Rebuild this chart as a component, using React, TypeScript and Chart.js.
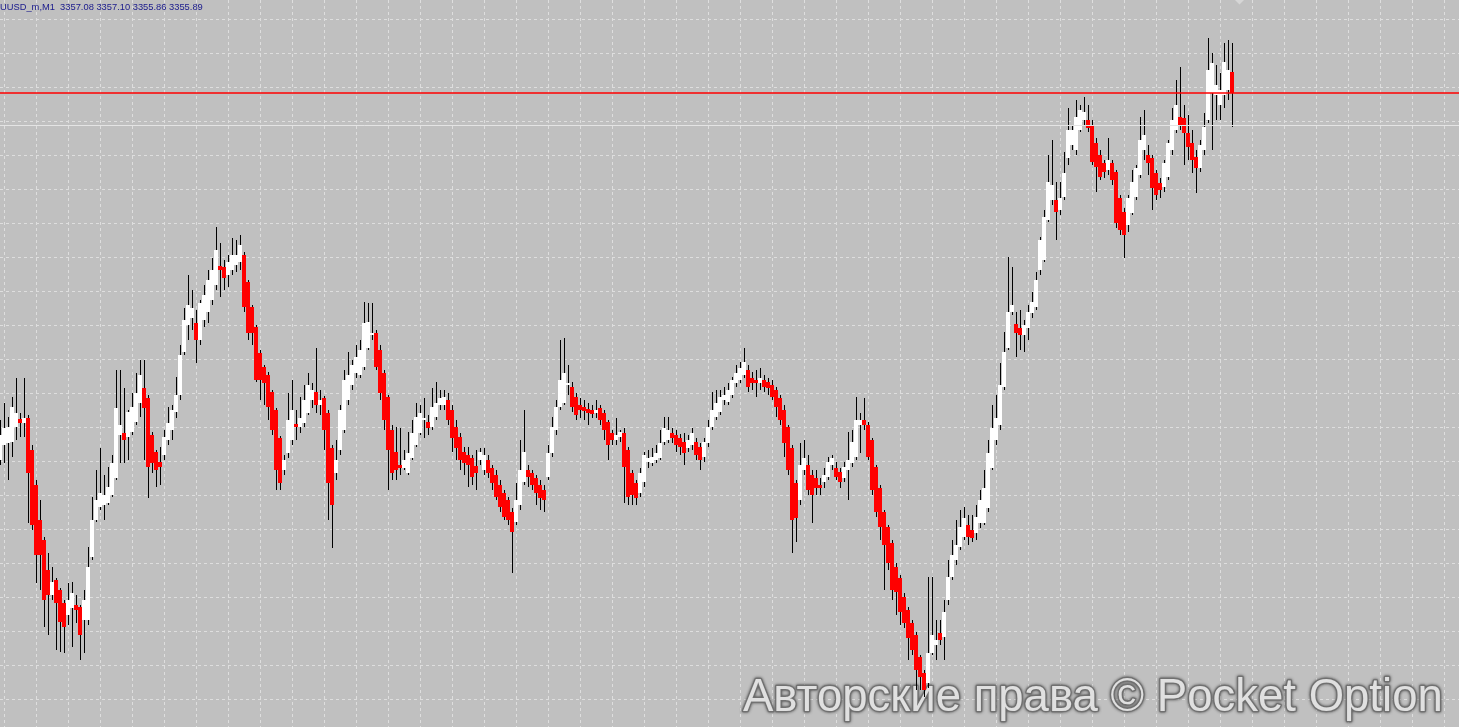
import React, { useEffect, useRef } from "react";
import { Chart, registerables } from "chart.js";

Chart.register(...registerables);

// ---- header / texts ----
const SYMBOL = "UUSD_m,M1";
const LAST_BAR_TEXT = ["3357.08", "3357.10", "3355.86", "3355.89"];
const WATERMARK = "Авторские права © Pocket Option";

// ---- OHLC series (1-minute bars, oldest first) ----
const opens = [
  3319.0, 3320.5, 3320.7, 3320.8, 3322.3, 3323.1, 3322.7, 3323.2, 3320.0, 3316.5,
  3313.0, 3311.0, 3308.0, 3305.5, 3307.0, 3306.0, 3304.7, 3303.5, 3304.2, 3304.5,
  3304.3, 3303.0, 3303.0, 3309.3, 3313.0, 3314.3, 3314.5, 3314.7, 3315.5, 3317.2,
  3321.5, 3321.7, 3321.3, 3321.8, 3322.8, 3324.7, 3326.2, 3325.2, 3321.5, 3319.8,
  3318.8, 3319.5, 3321.0, 3322.0, 3323.8, 3325.5, 3329.8, 3332.5, 3333.2, 3332.7,
  3331.0, 3333.0, 3333.8, 3335.0, 3336.5, 3338.4, 3338.3, 3337.5, 3338.0, 3338.5,
  3338.8, 3339.5, 3336.8, 3334.3, 3332.3, 3329.7, 3328.3, 3327.5, 3325.8, 3324.0,
  3321.2, 3318.0, 3319.7, 3321.0, 3322.6, 3322.3, 3322.7, 3323.7, 3325.0, 3325.8,
  3324.5, 3325.2, 3323.7, 3320.2, 3317.7, 3320.0, 3322.0, 3325.0, 3326.5, 3327.7,
  3327.5, 3328.3, 3330.2, 3331.5, 3331.7, 3330.0, 3327.7, 3325.3, 3322.0, 3319.8,
  3318.5, 3318.2, 3317.7, 3319.2, 3320.5, 3321.7, 3323.0, 3322.8, 3322.3, 3323.3,
  3324.5, 3324.5, 3325.0, 3324.0, 3322.3, 3321.3, 3319.8, 3319.5, 3319.2, 3318.4,
  3319.0, 3318.0, 3319.0, 3318.2, 3317.5, 3316.5, 3315.7, 3315.0, 3313.8, 3312.8,
  3314.5, 3316.8, 3318.0, 3317.7, 3317.2, 3316.5, 3316.0, 3317.3, 3319.7, 3322.0,
  3324.3, 3324.7, 3326.5, 3326.3, 3325.3, 3324.5, 3324.3, 3324.1, 3324.0, 3323.7,
  3324.2, 3323.7, 3322.8, 3321.7, 3321.0, 3321.3, 3321.7, 3320.0, 3317.7, 3316.7,
  3315.7, 3316.8, 3318.8, 3318.7, 3319.0, 3319.2, 3320.8, 3321.0, 3321.7, 3321.5,
  3321.2, 3320.8, 3320.2, 3320.5, 3320.8, 3320.3, 3319.3, 3320.7, 3322.3, 3323.3,
  3323.8, 3325.0, 3324.8, 3325.5, 3326.7, 3327.0, 3327.5, 3328.0, 3327.2, 3327.0,
  3326.7, 3327.0, 3326.8, 3326.5, 3326.0, 3325.2, 3324.0, 3322.3, 3320.2, 3316.7,
  3315.0, 3318.0, 3318.5, 3317.5, 3317.2, 3316.5, 3316.8, 3317.3, 3318.5, 3318.2,
  3317.8, 3317.2, 3318.0, 3318.7, 3319.3, 3322.5, 3323.0, 3322.5, 3321.0, 3318.3,
  3316.2, 3313.8, 3312.3, 3310.7, 3308.3, 3307.2, 3305.3, 3304.0, 3302.7, 3301.5,
  3299.3, 3297.7, 3296.7, 3299.7, 3300.5, 3301.7, 3301.3, 3305.0, 3307.3, 3309.0,
  3310.3, 3311.3, 3312.5, 3312.0, 3311.7, 3312.7, 3312.7, 3314.2, 3318.2, 3321.0,
  3322.5, 3326.3, 3330.2, 3333.8, 3332.6, 3332.2, 3331.5, 3332.2, 3333.7, 3334.3,
  3338.0, 3339.0, 3343.0, 3345.0, 3345.0, 3344.0, 3345.3, 3349.2, 3350.5, 3350.0,
  3352.0, 3353.0, 3353.0, 3352.5, 3350.7, 3349.5, 3348.7, 3348.0, 3348.7, 3347.8,
  3345.2, 3343.8, 3342.5, 3343.7, 3345.3, 3347.5, 3350.0, 3349.5, 3349.2, 3347.7,
  3346.7, 3346.3, 3347.3, 3350.0, 3352.0, 3353.3, 3353.2, 3351.7, 3350.7, 3349.3,
  3348.2, 3350.0, 3353.0, 3355.7, 3355.5, 3354.5, 3355.5, 3356.0, 3357.8,
];

const highs = [
  3323.0, 3324.7, 3323.3, 3325.3, 3327.2, 3323.7, 3327.2, 3323.5, 3320.5, 3317.0,
  3315.0, 3311.3, 3309.7, 3308.3, 3307.2, 3306.2, 3305.0, 3306.7, 3306.8, 3305.5,
  3304.5, 3306.0, 3310.3, 3315.3, 3318.0, 3320.2, 3317.5, 3318.3, 3319.5, 3328.0,
  3328.0, 3326.2, 3324.0, 3325.7, 3327.7, 3329.0, 3329.0, 3325.5, 3321.8, 3320.0,
  3320.3, 3322.0, 3324.3, 3324.5, 3327.3, 3330.5, 3334.2, 3337.5, 3336.0, 3334.0,
  3335.0, 3336.5, 3338.0, 3339.2, 3342.3, 3340.7, 3339.0, 3339.5, 3341.2, 3341.0,
  3341.5, 3339.8, 3337.0, 3334.5, 3332.5, 3330.0, 3328.5, 3327.8, 3326.0, 3324.2,
  3321.4, 3319.5, 3325.7, 3327.0, 3324.0, 3325.3, 3326.5, 3327.7, 3326.7, 3330.2,
  3326.0, 3325.4, 3324.0, 3320.5, 3321.0, 3324.5, 3328.0, 3329.8, 3329.0, 3330.5,
  3331.0, 3334.8, 3334.7, 3334.7, 3332.0, 3330.5, 3328.0, 3325.5, 3322.5, 3322.3,
  3322.2, 3320.0, 3321.8, 3323.0, 3324.7, 3324.5, 3325.2, 3323.5, 3326.2, 3326.8,
  3326.0, 3326.0, 3325.7, 3324.5, 3323.0, 3321.7, 3320.3, 3320.3, 3319.5, 3320.0,
  3320.2, 3320.2, 3319.5, 3318.5, 3318.0, 3317.0, 3316.0, 3315.3, 3314.2, 3316.7,
  3321.0, 3324.0, 3318.5, 3318.0, 3317.5, 3317.0, 3316.5, 3320.5, 3323.3, 3325.0,
  3331.0, 3331.2, 3328.5, 3326.8, 3325.7, 3325.2, 3325.0, 3324.7, 3324.5, 3325.0,
  3324.5, 3324.0, 3323.0, 3322.0, 3323.2, 3322.0, 3322.2, 3320.3, 3318.0, 3317.0,
  3318.2, 3319.8, 3320.0, 3320.2, 3320.5, 3322.0, 3323.3, 3323.3, 3322.2, 3322.0,
  3321.6, 3321.7, 3321.5, 3322.2, 3321.2, 3320.7, 3321.2, 3323.0, 3325.8, 3326.0,
  3326.0, 3326.3, 3326.7, 3327.3, 3328.5, 3328.8, 3330.2, 3328.5, 3327.8, 3328.0,
  3328.2, 3327.5, 3327.2, 3327.0, 3326.3, 3325.5, 3324.5, 3322.5, 3320.5, 3317.0,
  3320.7, 3321.0, 3319.5, 3318.0, 3318.0, 3317.2, 3318.2, 3319.3, 3319.5, 3318.8,
  3318.2, 3318.8, 3321.8, 3322.0, 3325.3, 3323.7, 3325.2, 3322.8, 3321.2, 3318.5,
  3316.5, 3314.0, 3312.5, 3311.0, 3308.7, 3307.5, 3305.7, 3304.3, 3303.0, 3301.8,
  3299.5, 3298.0, 3307.3, 3307.3, 3303.0, 3303.0, 3305.0, 3309.0, 3311.0, 3313.0,
  3314.0, 3314.3, 3313.5, 3313.5, 3314.5, 3316.0, 3318.0, 3321.0, 3324.5, 3325.5,
  3328.7, 3331.8, 3339.3, 3338.3, 3333.8, 3334.0, 3333.0, 3334.5, 3335.8, 3337.8,
  3341.3, 3344.0, 3349.5, 3351.0, 3346.8, 3346.8, 3349.8, 3354.2, 3352.5, 3355.0,
  3354.5, 3355.3, 3354.5, 3353.0, 3351.2, 3350.0, 3349.0, 3351.2, 3349.0, 3348.0,
  3345.5, 3344.2, 3345.5, 3348.0, 3348.5, 3353.3, 3354.0, 3350.5, 3349.5, 3348.0,
  3347.2, 3349.0, 3351.0, 3354.2, 3357.0, 3358.3, 3354.5, 3353.5, 3352.0, 3350.0,
  3351.0, 3353.7, 3361.2, 3359.7, 3358.5, 3357.7, 3360.7, 3361.0, 3360.7,
];

const lows = [
  3318.5, 3318.7, 3317.0, 3319.3, 3321.0, 3321.3, 3321.3, 3312.7, 3312.0, 3306.7,
  3306.0, 3302.3, 3301.5, 3305.0, 3300.0, 3299.8, 3299.7, 3302.5, 3300.3, 3302.7,
  3299.0, 3299.7, 3302.5, 3309.0, 3312.8, 3314.0, 3313.0, 3314.5, 3315.3, 3317.0,
  3318.7, 3318.7, 3319.0, 3321.5, 3322.5, 3323.3, 3319.0, 3315.2, 3317.7, 3316.3,
  3316.5, 3319.0, 3320.5, 3321.0, 3323.2, 3325.0, 3329.5, 3331.0, 3332.0, 3328.7,
  3330.5, 3332.3, 3332.7, 3334.5, 3336.0, 3335.3, 3336.0, 3336.3, 3337.5, 3337.8,
  3338.0, 3333.8, 3331.0, 3330.5, 3326.8, 3325.0, 3324.5, 3323.0, 3321.5, 3316.0,
  3316.0, 3317.5, 3319.2, 3320.5, 3321.0, 3321.7, 3322.3, 3323.5, 3324.2, 3323.7,
  3323.5, 3320.0, 3313.0, 3310.2, 3317.0, 3319.5, 3321.7, 3324.5, 3326.0, 3327.2,
  3327.2, 3328.0, 3330.0, 3331.0, 3328.0, 3325.0, 3322.0, 3316.0, 3317.0, 3317.0,
  3317.5, 3318.0, 3317.5, 3319.0, 3320.3, 3321.5, 3321.2, 3321.5, 3322.0, 3323.0,
  3324.0, 3324.0, 3322.5, 3319.8, 3319.0, 3318.0, 3317.5, 3316.3, 3316.5, 3316.0,
  3318.5, 3317.5, 3317.2, 3316.0, 3315.0, 3313.8, 3313.0, 3312.5, 3307.7, 3312.5,
  3314.0, 3316.5, 3316.3, 3316.0, 3314.5, 3314.0, 3313.8, 3317.0, 3319.3, 3321.5,
  3324.0, 3324.5, 3325.5, 3323.8, 3323.0, 3323.2, 3323.0, 3322.5, 3323.2, 3323.2,
  3322.5, 3321.0, 3319.0, 3320.5, 3320.5, 3320.8, 3314.7, 3314.5, 3314.5, 3314.5,
  3315.3, 3316.3, 3318.2, 3318.4, 3318.7, 3319.0, 3320.5, 3320.7, 3320.7, 3319.8,
  3319.5, 3318.5, 3319.8, 3320.0, 3319.0, 3318.0, 3318.8, 3320.3, 3322.0, 3323.0,
  3323.5, 3324.5, 3324.5, 3325.2, 3326.3, 3326.7, 3327.2, 3325.8, 3326.0, 3325.3,
  3326.0, 3325.8, 3325.5, 3325.0, 3323.3, 3322.5, 3319.3, 3317.5, 3309.7, 3310.8,
  3314.5, 3317.5, 3315.5, 3312.7, 3315.5, 3315.5, 3316.2, 3317.0, 3318.0, 3317.0,
  3316.2, 3316.8, 3315.0, 3318.3, 3319.0, 3319.7, 3322.0, 3319.0, 3315.5, 3313.3,
  3311.0, 3306.0, 3308.0, 3305.0, 3303.5, 3302.5, 3302.2, 3299.0, 3299.5, 3296.0,
  3296.0, 3295.3, 3296.2, 3299.5, 3299.0, 3300.5, 3299.0, 3304.5, 3307.0, 3308.5,
  3310.0, 3311.0, 3310.5, 3310.8, 3311.0, 3312.2, 3312.5, 3313.8, 3318.0, 3320.5,
  3322.0, 3326.0, 3330.0, 3333.5, 3329.3, 3330.0, 3329.8, 3331.0, 3333.2, 3334.0,
  3337.5, 3338.8, 3342.8, 3344.5, 3341.0, 3343.5, 3345.0, 3348.5, 3350.0, 3349.5,
  3351.8, 3352.5, 3351.8, 3348.5, 3345.8, 3347.0, 3347.2, 3347.5, 3346.5, 3342.2,
  3341.5, 3339.2, 3341.8, 3343.5, 3345.0, 3347.2, 3349.0, 3347.5, 3344.0, 3345.0,
  3345.2, 3345.8, 3347.0, 3349.5, 3351.7, 3352.0, 3348.5, 3349.0, 3347.7, 3345.7,
  3347.8, 3349.5, 3352.7, 3350.0, 3353.0, 3353.0, 3354.2, 3355.0, 3352.3,
];

const closes = [
  3321.5, 3322.2, 3322.3, 3324.3, 3323.7, 3322.7, 3323.2, 3317.7, 3312.5, 3309.5,
  3309.5, 3305.0, 3305.5, 3306.8, 3304.7, 3302.8, 3302.3, 3305.0, 3305.7, 3304.0,
  3301.5, 3305.0, 3308.3, 3313.0, 3315.0, 3315.7, 3315.5, 3316.3, 3318.7, 3324.2,
  3322.5, 3321.0, 3323.8, 3324.3, 3325.7, 3327.5, 3324.2, 3318.3, 3318.7, 3318.0,
  3318.3, 3321.3, 3322.7, 3324.0, 3325.5, 3329.5, 3333.0, 3334.5, 3334.2, 3331.0,
  3334.7, 3335.5, 3337.0, 3338.0, 3340.0, 3338.0, 3337.2, 3338.8, 3339.5, 3339.5,
  3340.5, 3334.3, 3331.7, 3331.7, 3327.0, 3327.0, 3326.7, 3324.3, 3322.0, 3318.0,
  3316.7, 3319.0, 3323.0, 3324.0, 3322.3, 3323.2, 3325.0, 3326.5, 3326.0, 3324.5,
  3325.0, 3322.0, 3316.7, 3314.5, 3319.0, 3324.0, 3327.0, 3327.5, 3328.5, 3329.3,
  3330.0, 3332.7, 3332.8, 3331.7, 3328.3, 3325.7, 3323.0, 3320.0, 3317.7, 3318.0,
  3318.2, 3319.0, 3319.7, 3321.7, 3323.3, 3323.7, 3323.2, 3322.2, 3324.3, 3324.7,
  3325.2, 3325.3, 3323.0, 3321.2, 3320.2, 3319.0, 3318.7, 3318.5, 3317.3, 3317.7,
  3319.8, 3319.5, 3317.7, 3316.7, 3315.3, 3314.3, 3313.3, 3313.0, 3311.8, 3315.0,
  3318.0, 3319.8, 3317.3, 3316.5, 3315.7, 3315.2, 3315.0, 3319.7, 3322.3, 3324.3,
  3327.0, 3327.7, 3326.7, 3324.3, 3323.5, 3324.0, 3323.9, 3323.7, 3323.6, 3324.0,
  3323.0, 3322.0, 3320.5, 3321.0, 3321.5, 3321.8, 3318.3, 3315.3, 3315.5, 3315.2,
  3317.7, 3319.5, 3319.2, 3319.3, 3319.7, 3320.7, 3322.2, 3322.0, 3321.2, 3320.5,
  3320.3, 3319.7, 3321.0, 3321.7, 3319.5, 3319.0, 3320.8, 3322.3, 3324.0, 3324.7,
  3325.3, 3325.5, 3326.0, 3327.0, 3327.7, 3328.2, 3328.8, 3326.3, 3326.7, 3326.7,
  3327.2, 3326.3, 3326.2, 3325.3, 3324.3, 3323.0, 3320.7, 3318.0, 3313.0, 3313.2,
  3318.5, 3319.2, 3316.0, 3315.5, 3316.2, 3316.2, 3317.5, 3318.8, 3319.2, 3317.3,
  3316.8, 3318.3, 3319.0, 3320.8, 3323.0, 3323.0, 3322.5, 3319.3, 3316.0, 3313.8,
  3312.3, 3310.5, 3308.7, 3306.0, 3305.8, 3303.8, 3302.7, 3301.2, 3300.0, 3298.0,
  3297.3, 3296.0, 3299.7, 3301.5, 3301.0, 3301.0, 3303.8, 3307.3, 3309.5, 3310.5,
  3312.3, 3313.2, 3311.3, 3311.2, 3313.3, 3315.0, 3316.2, 3319.7, 3322.2, 3323.2,
  3326.5, 3329.8, 3333.8, 3334.5, 3331.7, 3331.5, 3332.5, 3333.8, 3334.8, 3337.0,
  3341.0, 3343.3, 3346.8, 3346.5, 3343.8, 3345.2, 3347.7, 3352.0, 3352.0, 3353.3,
  3354.0, 3353.8, 3352.2, 3348.8, 3348.3, 3347.3, 3347.8, 3349.0, 3347.0, 3342.7,
  3342.0, 3341.5, 3345.2, 3346.8, 3348.2, 3351.0, 3351.5, 3348.7, 3346.2, 3345.5,
  3346.0, 3348.7, 3350.7, 3353.0, 3354.5, 3352.5, 3351.7, 3350.3, 3349.0, 3348.2,
  3350.5, 3352.3, 3358.0, 3358.7, 3356.5, 3356.0, 3358.8, 3358.0, 3355.7,
];

// horizontal price lines
const BID_LINE = 3355.7;
const LIGHT_LINE = 3352.45;

// visible window
const PRICE_MAX = 3365.0;
const PRICE_MIN = 3292.3;
const BAR_MIN = -0.125;
const BAR_MAX = 364.625;
const SHIFT_MARK = 309.75;

// grid positions (MT4 style fixed grid)
const GRID_BAR_START = 1;
const GRID_BAR_STEP = 8;
const GRID_BAR_COUNT = 46;
const GRID_PRICE_START = 3363.05;
const GRID_PRICE_STEP = 3.4;
const GRID_PRICE_COUNT = 21;

const W = 1459;
const H = 727;

const BG = "#c0c0c0";
const GRID_COLOR = "#dedede";
const UP_COLOR = "#ffffff";
const DOWN_COLOR = "#ff0000";
const WICK_COLOR = "#000000";

const overlayPlugin = {
  id: "mtOverlay",
  beforeDraw(chart: any) {
    const ctx = chart.ctx;
    ctx.save();
    ctx.fillStyle = BG;
    ctx.fillRect(0, 0, chart.width, chart.height);
    ctx.restore();
  },
  beforeDatasetsDraw(chart: any) {
    const ctx = chart.ctx;
    ctx.save();
    const family = '"Liberation Sans", Arial, sans-serif';
    ctx.font = `100px ${family}`;
    const w100 = ctx.measureText(WATERMARK).width;
    const size = (100 * 700) / w100;
    ctx.font = `${size}px ${family}`;
    ctx.textBaseline = "alphabetic";
    ctx.textAlign = "left";
    ctx.lineJoin = "round";
    const x = 743;
    const y = 711;
    ctx.shadowColor = "rgba(40,40,40,0.85)";
    ctx.shadowBlur = 3;
    ctx.strokeStyle = "#707070";
    ctx.lineWidth = 2.5;
    ctx.strokeText(WATERMARK, x, y);
    ctx.shadowBlur = 0;
    ctx.shadowColor = "transparent";
    ctx.fillStyle = "#e0e0e0";
    ctx.fillText(WATERMARK, x, y);
    ctx.restore();
  },
  afterDraw(chart: any) {
    const ctx = chart.ctx;
    ctx.save();
    // header
    const text = `${SYMBOL}  ${LAST_BAR_TEXT.join(" ")}`;
    const family = '"Liberation Sans", Arial, sans-serif';
    ctx.font = `100px ${family}`;
    const w100 = ctx.measureText(text).width;
    const size = Math.min(11, (100 * 203) / w100);
    ctx.font = `${size}px ${family}`;
    ctx.fillStyle = "#1a1a8c";
    ctx.textBaseline = "alphabetic";
    ctx.fillText(text, 0, 10);
    // chart shift marker
    const xs = chart.scales.x.getPixelForValue(SHIFT_MARK);
    ctx.fillStyle = "#d6d6d6";
    ctx.beginPath();
    ctx.moveTo(xs - 4.5, 0);
    ctx.lineTo(xs + 4.5, 0);
    ctx.lineTo(xs, 4.5);
    ctx.closePath();
    ctx.fill();
    ctx.restore();
  },
};

export default function App() {
  const ref = useRef<HTMLCanvasElement>(null);

  useEffect(() => {
    document.body.style.margin = "0";
    document.body.style.overflow = "hidden";
    const canvas = ref.current;
    if (!canvas) return;

    // body: 4px wide, wick sits on its third pixel column (body drawn over wick)
    const bodies = opens.map((o, i) => ({ x: i - 0.125, y: [o, closes[i]] }));
    const bodyColors = opens.map((o, i) => (closes[i] >= o ? UP_COLOR : DOWN_COLOR));
    const wicks = lows.map((l, i) => ({ x: i, y: [l, highs[i]] }));

    const gridBars = Array.from({ length: GRID_BAR_COUNT }, (_, k) => GRID_BAR_START + k * GRID_BAR_STEP);
    const gridPrices = Array.from({ length: GRID_PRICE_COUNT }, (_, k) => GRID_PRICE_START - k * GRID_PRICE_STEP);

    const chart = new Chart(canvas, {
      type: "bar",
      data: {
        datasets: [
          {
            type: "bar",
            label: "wick",
            data: wicks as any,
            backgroundColor: WICK_COLOR,
            barThickness: 1,
            grouped: false,
            inflateAmount: 0,
            borderWidth: 0,
            order: 4,
          } as any,
          {
            type: "bar",
            label: "body",
            data: bodies as any,
            backgroundColor: bodyColors,
            barThickness: 4,
            grouped: false,
            minBarLength: 1,
            inflateAmount: 0,
            borderWidth: 0,
            order: 3,
          } as any,
          {
            type: "line",
            label: "light",
            data: [
              { x: BAR_MIN, y: LIGHT_LINE },
              { x: BAR_MAX, y: LIGHT_LINE },
            ],
            borderColor: "#e4e4e4",
            borderWidth: 1,
            pointRadius: 0,
            pointHoverRadius: 0,
            order: 1,
          } as any,
          {
            type: "line",
            label: "bid",
            data: [
              { x: BAR_MIN, y: BID_LINE },
              { x: BAR_MAX, y: BID_LINE },
            ],
            borderColor: "#ff0000",
            borderWidth: 1.5,
            pointRadius: 0,
            pointHoverRadius: 0,
            order: 0,
          } as any,
        ],
      },
      options: {
        responsive: false,
        animation: false,
        events: [],
        layout: { padding: 0, autoPadding: false },
        plugins: {
          legend: { display: false },
          tooltip: { enabled: false },
          title: { display: false },
        },
        scales: {
          x: {
            type: "linear",
            min: BAR_MIN,
            max: BAR_MAX,
            offset: false,
            afterBuildTicks: (axis: any) => {
              axis.ticks = gridBars.map((v) => ({ value: v }));
            },
            ticks: { display: false },
            grid: { color: GRID_COLOR, lineWidth: 1, drawTicks: false, offset: false },
            border: { display: false, dash: [3, 3] },
          },
          y: {
            type: "linear",
            min: PRICE_MIN,
            max: PRICE_MAX,
            beginAtZero: false,
            afterBuildTicks: (axis: any) => {
              axis.ticks = gridPrices.map((v) => ({ value: v }));
            },
            ticks: { display: false },
            grid: { color: GRID_COLOR, lineWidth: 1, drawTicks: false },
            border: { display: false, dash: [3, 3] },
          },
        },
      } as any,
      plugins: [overlayPlugin],
    });

    return () => {
      chart.destroy();
    };
  }, []);

  return (
    <div style={{ width: W, height: H, background: BG, overflow: "hidden" }}>
      <canvas ref={ref} width={W} height={H} style={{ display: "block", width: W, height: H }} />
    </div>
  );
}
